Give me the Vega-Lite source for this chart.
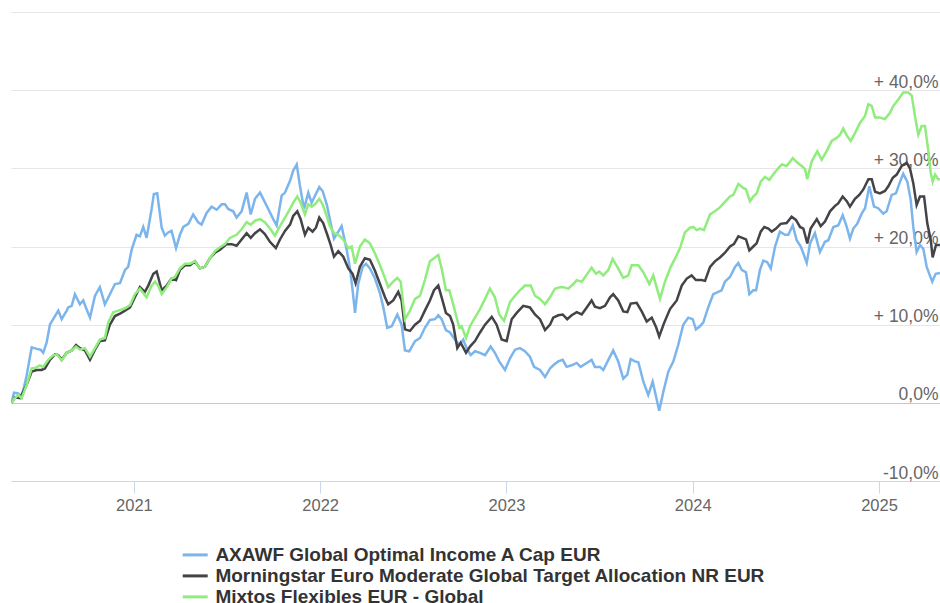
{
  "$schema": "https://vega.github.io/schema/vega-lite/v6.json",
  "width": 929,
  "height": 469,
  "autosize": {"type": "none"},
  "padding": {"left": 11, "top": 12, "right": 0, "bottom": 122},
  "background": "#ffffff",
  "config": {"view": {"stroke": null}, "font": "Liberation Sans"},
  "data": {"values": [
{"s":"a","t":2020.343,"v":0},{"s":"a","t":2020.356,"v":1.3},{"s":"a","t":2020.379,"v":1.2},{"s":"a","t":2020.397,"v":0.7},{"s":"a","t":2020.424,"v":3.5},{"s":"a","t":2020.451,"v":7.1},{"s":"a","t":2020.478,"v":6.9},{"s":"a","t":2020.499,"v":6.8},{"s":"a","t":2020.513,"v":6.4},{"s":"a","t":2020.531,"v":7.7},{"s":"a","t":2020.549,"v":10.0},{"s":"a","t":2020.576,"v":11.1},{"s":"a","t":2020.594,"v":11.8},{"s":"a","t":2020.612,"v":10.7},{"s":"a","t":2020.639,"v":11.8},{"s":"a","t":2020.647,"v":12.2},{"s":"a","t":2020.666,"v":12.4},{"s":"a","t":2020.683,"v":13.9},{"s":"a","t":2020.710,"v":12.6},{"s":"a","t":2020.728,"v":13.1},{"s":"a","t":2020.742,"v":12.2},{"s":"a","t":2020.764,"v":10.9},{"s":"a","t":2020.791,"v":13.7},{"s":"a","t":2020.817,"v":14.8},{"s":"a","t":2020.844,"v":12.6},{"s":"a","t":2020.871,"v":13.9},{"s":"a","t":2020.898,"v":15.2},{"s":"a","t":2020.925,"v":15.3},{"s":"a","t":2020.952,"v":17.0},{"s":"a","t":2020.969,"v":17.4},{"s":"a","t":2020.988,"v":19.6},{"s":"a","t":2021.014,"v":21.5},{"s":"a","t":2021.032,"v":21.3},{"s":"a","t":2021.050,"v":22.5},{"s":"a","t":2021.068,"v":21.1},{"s":"a","t":2021.095,"v":24.8},{"s":"a","t":2021.107,"v":26.7},{"s":"a","t":2021.125,"v":26.8},{"s":"a","t":2021.149,"v":22.4},{"s":"a","t":2021.166,"v":21.4},{"s":"a","t":2021.184,"v":21.8},{"s":"a","t":2021.202,"v":22.0},{"s":"a","t":2021.226,"v":19.8},{"s":"a","t":2021.247,"v":21.5},{"s":"a","t":2021.265,"v":22.5},{"s":"a","t":2021.292,"v":22.9},{"s":"a","t":2021.318,"v":24.1},{"s":"a","t":2021.345,"v":23.1},{"s":"a","t":2021.363,"v":22.8},{"s":"a","t":2021.390,"v":24.3},{"s":"a","t":2021.417,"v":25.1},{"s":"a","t":2021.444,"v":24.7},{"s":"a","t":2021.471,"v":25.4},{"s":"a","t":2021.489,"v":25.4},{"s":"a","t":2021.506,"v":24.8},{"s":"a","t":2021.533,"v":24.5},{"s":"a","t":2021.551,"v":23.7},{"s":"a","t":2021.578,"v":24.5},{"s":"a","t":2021.605,"v":26.9},{"s":"a","t":2021.627,"v":24.1},{"s":"a","t":2021.650,"v":26.1},{"s":"a","t":2021.677,"v":26.9},{"s":"a","t":2021.694,"v":26.1},{"s":"a","t":2021.721,"v":24.8},{"s":"a","t":2021.748,"v":23.5},{"s":"a","t":2021.766,"v":22.7},{"s":"a","t":2021.793,"v":26.5},{"s":"a","t":2021.811,"v":26.9},{"s":"a","t":2021.838,"v":28.4},{"s":"a","t":2021.855,"v":29.7},{"s":"a","t":2021.874,"v":30.5},{"s":"a","t":2021.891,"v":27.8},{"s":"a","t":2021.913,"v":24.8},{"s":"a","t":2021.936,"v":26.9},{"s":"a","t":2021.954,"v":25.6},{"s":"a","t":2021.972,"v":26.5},{"s":"a","t":2021.995,"v":27.6},{"s":"a","t":2022.013,"v":27.1},{"s":"a","t":2022.035,"v":25.4},{"s":"a","t":2022.052,"v":23.5},{"s":"a","t":2022.074,"v":21.0},{"s":"a","t":2022.097,"v":21.9},{"s":"a","t":2022.115,"v":22.6},{"s":"a","t":2022.142,"v":19.6},{"s":"a","t":2022.160,"v":17.2},{"s":"a","t":2022.174,"v":14.4},{"s":"a","t":2022.187,"v":11.5},{"s":"a","t":2022.204,"v":15.2},{"s":"a","t":2022.228,"v":17.4},{"s":"a","t":2022.246,"v":17.8},{"s":"a","t":2022.267,"v":17.2},{"s":"a","t":2022.294,"v":15.9},{"s":"a","t":2022.321,"v":14.0},{"s":"a","t":2022.339,"v":12.2},{"s":"a","t":2022.360,"v":9.6},{"s":"a","t":2022.384,"v":9.8},{"s":"a","t":2022.414,"v":11.3},{"s":"a","t":2022.437,"v":10.0},{"s":"a","t":2022.455,"v":6.7},{"s":"a","t":2022.478,"v":6.6},{"s":"a","t":2022.509,"v":7.9},{"s":"a","t":2022.536,"v":8.3},{"s":"a","t":2022.562,"v":9.6},{"s":"a","t":2022.589,"v":10.6},{"s":"a","t":2022.616,"v":10.7},{"s":"a","t":2022.634,"v":11.2},{"s":"a","t":2022.652,"v":10.7},{"s":"a","t":2022.675,"v":9.3},{"s":"a","t":2022.697,"v":9.0},{"s":"a","t":2022.723,"v":8.1},{"s":"a","t":2022.747,"v":7.4},{"s":"a","t":2022.768,"v":8.1},{"s":"a","t":2022.786,"v":7.0},{"s":"a","t":2022.808,"v":6.1},{"s":"a","t":2022.831,"v":6.6},{"s":"a","t":2022.858,"v":6.4},{"s":"a","t":2022.885,"v":6.1},{"s":"a","t":2022.915,"v":7.2},{"s":"a","t":2022.938,"v":6.4},{"s":"a","t":2022.961,"v":5.3},{"s":"a","t":2022.992,"v":4.2},{"s":"a","t":2023.019,"v":5.7},{"s":"a","t":2023.046,"v":6.8},{"s":"a","t":2023.072,"v":7.0},{"s":"a","t":2023.099,"v":6.6},{"s":"a","t":2023.126,"v":5.9},{"s":"a","t":2023.148,"v":4.6},{"s":"a","t":2023.180,"v":4.2},{"s":"a","t":2023.207,"v":3.3},{"s":"a","t":2023.234,"v":4.4},{"s":"a","t":2023.251,"v":4.8},{"s":"a","t":2023.278,"v":5.3},{"s":"a","t":2023.302,"v":5.5},{"s":"a","t":2023.323,"v":4.6},{"s":"a","t":2023.350,"v":4.8},{"s":"a","t":2023.377,"v":5.1},{"s":"a","t":2023.398,"v":4.6},{"s":"a","t":2023.431,"v":5.1},{"s":"a","t":2023.457,"v":5.5},{"s":"a","t":2023.475,"v":4.6},{"s":"a","t":2023.502,"v":4.6},{"s":"a","t":2023.520,"v":4.2},{"s":"a","t":2023.547,"v":5.5},{"s":"a","t":2023.573,"v":6.7},{"s":"a","t":2023.600,"v":5.3},{"s":"a","t":2023.627,"v":3.1},{"s":"a","t":2023.649,"v":3.6},{"s":"a","t":2023.667,"v":5.6},{"s":"a","t":2023.690,"v":5.3},{"s":"a","t":2023.708,"v":5.2},{"s":"a","t":2023.735,"v":2.7},{"s":"a","t":2023.761,"v":1.0},{"s":"a","t":2023.785,"v":2.7},{"s":"a","t":2023.806,"v":0.5},{"s":"a","t":2023.820,"v":-1.0},{"s":"a","t":2023.842,"v":1.4},{"s":"a","t":2023.869,"v":4.0},{"s":"a","t":2023.896,"v":5.3},{"s":"a","t":2023.922,"v":7.4},{"s":"a","t":2023.949,"v":10.0},{"s":"a","t":2023.976,"v":10.9},{"s":"a","t":2024.000,"v":10.7},{"s":"a","t":2024.017,"v":9.4},{"s":"a","t":2024.039,"v":9.8},{"s":"a","t":2024.057,"v":10.3},{"s":"a","t":2024.083,"v":12.2},{"s":"a","t":2024.110,"v":13.9},{"s":"a","t":2024.137,"v":14.2},{"s":"a","t":2024.155,"v":14.4},{"s":"a","t":2024.173,"v":15.5},{"s":"a","t":2024.200,"v":16.1},{"s":"a","t":2024.227,"v":17.4},{"s":"a","t":2024.245,"v":17.9},{"s":"a","t":2024.263,"v":17.0},{"s":"a","t":2024.286,"v":16.7},{"s":"a","t":2024.304,"v":13.9},{"s":"a","t":2024.325,"v":14.4},{"s":"a","t":2024.340,"v":14.4},{"s":"a","t":2024.361,"v":17.0},{"s":"a","t":2024.379,"v":18.2},{"s":"a","t":2024.400,"v":18.0},{"s":"a","t":2024.419,"v":17.2},{"s":"a","t":2024.442,"v":20.0},{"s":"a","t":2024.468,"v":21.9},{"s":"a","t":2024.495,"v":21.5},{"s":"a","t":2024.513,"v":21.5},{"s":"a","t":2024.537,"v":22.7},{"s":"a","t":2024.558,"v":20.8},{"s":"a","t":2024.580,"v":20.0},{"s":"a","t":2024.594,"v":19.1},{"s":"a","t":2024.612,"v":17.9},{"s":"a","t":2024.630,"v":20.4},{"s":"a","t":2024.656,"v":21.7},{"s":"a","t":2024.683,"v":19.3},{"s":"a","t":2024.710,"v":20.6},{"s":"a","t":2024.728,"v":20.8},{"s":"a","t":2024.755,"v":22.5},{"s":"a","t":2024.781,"v":22.7},{"s":"a","t":2024.805,"v":24.0},{"s":"a","t":2024.827,"v":22.5},{"s":"a","t":2024.844,"v":21.0},{"s":"a","t":2024.862,"v":22.3},{"s":"a","t":2024.883,"v":22.9},{"s":"a","t":2024.907,"v":24.2},{"s":"a","t":2024.925,"v":24.9},{"s":"a","t":2024.948,"v":27.7},{"s":"a","t":2024.973,"v":25.1},{"s":"a","t":2024.996,"v":24.9},{"s":"a","t":2025.023,"v":24.2},{"s":"a","t":2025.041,"v":24.5},{"s":"a","t":2025.068,"v":26.6},{"s":"a","t":2025.091,"v":26.8},{"s":"a","t":2025.113,"v":28.3},{"s":"a","t":2025.130,"v":29.3},{"s":"a","t":2025.152,"v":28.3},{"s":"a","t":2025.170,"v":26.0},{"s":"a","t":2025.184,"v":22.5},{"s":"a","t":2025.202,"v":19.3},{"s":"a","t":2025.220,"v":20.2},{"s":"a","t":2025.238,"v":19.7},{"s":"a","t":2025.256,"v":17.4},{"s":"a","t":2025.270,"v":16.5},{"s":"a","t":2025.286,"v":15.5},{"s":"a","t":2025.304,"v":16.5},{"s":"a","t":2025.327,"v":16.6},
{"s":"b","t":2020.343,"v":0},{"s":"b","t":2020.361,"v":0.7},{"s":"b","t":2020.388,"v":0.6},{"s":"b","t":2020.424,"v":2.3},{"s":"b","t":2020.451,"v":4.0},{"s":"b","t":2020.478,"v":4.2},{"s":"b","t":2020.504,"v":4.2},{"s":"b","t":2020.522,"v":4.4},{"s":"b","t":2020.549,"v":5.5},{"s":"b","t":2020.576,"v":6.2},{"s":"b","t":2020.594,"v":6.1},{"s":"b","t":2020.612,"v":5.5},{"s":"b","t":2020.639,"v":6.4},{"s":"b","t":2020.666,"v":6.7},{"s":"b","t":2020.689,"v":7.4},{"s":"b","t":2020.710,"v":7.0},{"s":"b","t":2020.737,"v":6.7},{"s":"b","t":2020.764,"v":5.5},{"s":"b","t":2020.791,"v":6.8},{"s":"b","t":2020.817,"v":7.9},{"s":"b","t":2020.844,"v":8.0},{"s":"b","t":2020.871,"v":10.0},{"s":"b","t":2020.898,"v":11.1},{"s":"b","t":2020.925,"v":11.4},{"s":"b","t":2020.952,"v":11.8},{"s":"b","t":2020.979,"v":12.2},{"s":"b","t":2021.005,"v":13.5},{"s":"b","t":2021.032,"v":14.8},{"s":"b","t":2021.059,"v":14.2},{"s":"b","t":2021.077,"v":15.0},{"s":"b","t":2021.104,"v":16.5},{"s":"b","t":2021.122,"v":16.8},{"s":"b","t":2021.149,"v":14.4},{"s":"b","t":2021.176,"v":15.0},{"s":"b","t":2021.202,"v":15.9},{"s":"b","t":2021.226,"v":15.7},{"s":"b","t":2021.247,"v":17.0},{"s":"b","t":2021.274,"v":17.6},{"s":"b","t":2021.301,"v":17.6},{"s":"b","t":2021.328,"v":18.1},{"s":"b","t":2021.354,"v":17.2},{"s":"b","t":2021.381,"v":17.4},{"s":"b","t":2021.408,"v":18.5},{"s":"b","t":2021.435,"v":19.2},{"s":"b","t":2021.462,"v":19.6},{"s":"b","t":2021.498,"v":20.3},{"s":"b","t":2021.525,"v":20.3},{"s":"b","t":2021.551,"v":20.1},{"s":"b","t":2021.578,"v":20.9},{"s":"b","t":2021.605,"v":21.7},{"s":"b","t":2021.627,"v":21.1},{"s":"b","t":2021.650,"v":21.7},{"s":"b","t":2021.677,"v":22.2},{"s":"b","t":2021.703,"v":21.6},{"s":"b","t":2021.730,"v":20.6},{"s":"b","t":2021.762,"v":19.8},{"s":"b","t":2021.784,"v":20.9},{"s":"b","t":2021.811,"v":22.0},{"s":"b","t":2021.838,"v":22.8},{"s":"b","t":2021.855,"v":23.9},{"s":"b","t":2021.877,"v":24.5},{"s":"b","t":2021.895,"v":23.5},{"s":"b","t":2021.918,"v":21.5},{"s":"b","t":2021.936,"v":22.4},{"s":"b","t":2021.959,"v":21.9},{"s":"b","t":2021.977,"v":22.4},{"s":"b","t":2021.995,"v":23.7},{"s":"b","t":2022.016,"v":23.0},{"s":"b","t":2022.038,"v":21.5},{"s":"b","t":2022.056,"v":20.2},{"s":"b","t":2022.074,"v":18.7},{"s":"b","t":2022.097,"v":19.4},{"s":"b","t":2022.124,"v":18.7},{"s":"b","t":2022.151,"v":17.2},{"s":"b","t":2022.174,"v":16.5},{"s":"b","t":2022.190,"v":15.3},{"s":"b","t":2022.213,"v":17.4},{"s":"b","t":2022.240,"v":18.5},{"s":"b","t":2022.267,"v":18.3},{"s":"b","t":2022.294,"v":16.9},{"s":"b","t":2022.321,"v":15.2},{"s":"b","t":2022.348,"v":13.5},{"s":"b","t":2022.365,"v":12.6},{"s":"b","t":2022.392,"v":13.1},{"s":"b","t":2022.419,"v":14.2},{"s":"b","t":2022.437,"v":13.1},{"s":"b","t":2022.455,"v":9.4},{"s":"b","t":2022.482,"v":9.2},{"s":"b","t":2022.509,"v":10.0},{"s":"b","t":2022.536,"v":10.5},{"s":"b","t":2022.562,"v":11.8},{"s":"b","t":2022.589,"v":13.1},{"s":"b","t":2022.611,"v":14.4},{"s":"b","t":2022.634,"v":15.0},{"s":"b","t":2022.652,"v":13.5},{"s":"b","t":2022.675,"v":11.5},{"s":"b","t":2022.697,"v":11.1},{"s":"b","t":2022.714,"v":10.0},{"s":"b","t":2022.736,"v":7.0},{"s":"b","t":2022.754,"v":7.7},{"s":"b","t":2022.783,"v":6.4},{"s":"b","t":2022.804,"v":7.2},{"s":"b","t":2022.831,"v":7.9},{"s":"b","t":2022.858,"v":9.0},{"s":"b","t":2022.885,"v":10.0},{"s":"b","t":2022.921,"v":11.0},{"s":"b","t":2022.947,"v":10.0},{"s":"b","t":2022.974,"v":8.1},{"s":"b","t":2023.001,"v":7.9},{"s":"b","t":2023.028,"v":10.7},{"s":"b","t":2023.055,"v":11.5},{"s":"b","t":2023.090,"v":12.4},{"s":"b","t":2023.126,"v":12.2},{"s":"b","t":2023.153,"v":11.3},{"s":"b","t":2023.180,"v":10.7},{"s":"b","t":2023.207,"v":9.3},{"s":"b","t":2023.234,"v":10.0},{"s":"b","t":2023.251,"v":10.9},{"s":"b","t":2023.278,"v":11.2},{"s":"b","t":2023.302,"v":11.3},{"s":"b","t":2023.326,"v":10.7},{"s":"b","t":2023.350,"v":11.2},{"s":"b","t":2023.377,"v":11.6},{"s":"b","t":2023.404,"v":11.3},{"s":"b","t":2023.431,"v":12.2},{"s":"b","t":2023.457,"v":13.1},{"s":"b","t":2023.475,"v":12.3},{"s":"b","t":2023.502,"v":12.1},{"s":"b","t":2023.529,"v":12.4},{"s":"b","t":2023.556,"v":13.5},{"s":"b","t":2023.573,"v":13.9},{"s":"b","t":2023.600,"v":13.1},{"s":"b","t":2023.627,"v":11.7},{"s":"b","t":2023.649,"v":11.6},{"s":"b","t":2023.667,"v":12.7},{"s":"b","t":2023.699,"v":12.8},{"s":"b","t":2023.726,"v":11.7},{"s":"b","t":2023.753,"v":10.4},{"s":"b","t":2023.780,"v":10.9},{"s":"b","t":2023.803,"v":9.7},{"s":"b","t":2023.820,"v":8.5},{"s":"b","t":2023.846,"v":10.2},{"s":"b","t":2023.878,"v":12.0},{"s":"b","t":2023.914,"v":13.1},{"s":"b","t":2023.941,"v":15.0},{"s":"b","t":2023.968,"v":15.9},{"s":"b","t":2023.994,"v":16.3},{"s":"b","t":2024.017,"v":15.7},{"s":"b","t":2024.048,"v":15.7},{"s":"b","t":2024.066,"v":15.6},{"s":"b","t":2024.093,"v":17.4},{"s":"b","t":2024.119,"v":18.1},{"s":"b","t":2024.146,"v":18.6},{"s":"b","t":2024.173,"v":19.2},{"s":"b","t":2024.200,"v":20.0},{"s":"b","t":2024.221,"v":20.3},{"s":"b","t":2024.245,"v":21.3},{"s":"b","t":2024.266,"v":21.1},{"s":"b","t":2024.286,"v":20.9},{"s":"b","t":2024.304,"v":19.5},{"s":"b","t":2024.325,"v":20.0},{"s":"b","t":2024.343,"v":20.4},{"s":"b","t":2024.365,"v":21.9},{"s":"b","t":2024.384,"v":22.5},{"s":"b","t":2024.406,"v":22.3},{"s":"b","t":2024.424,"v":21.9},{"s":"b","t":2024.447,"v":22.3},{"s":"b","t":2024.472,"v":22.9},{"s":"b","t":2024.504,"v":23.0},{"s":"b","t":2024.531,"v":23.8},{"s":"b","t":2024.554,"v":23.4},{"s":"b","t":2024.576,"v":22.5},{"s":"b","t":2024.594,"v":22.3},{"s":"b","t":2024.615,"v":20.4},{"s":"b","t":2024.633,"v":22.3},{"s":"b","t":2024.666,"v":23.5},{"s":"b","t":2024.687,"v":22.6},{"s":"b","t":2024.710,"v":23.2},{"s":"b","t":2024.737,"v":24.5},{"s":"b","t":2024.764,"v":25.2},{"s":"b","t":2024.781,"v":25.5},{"s":"b","t":2024.805,"v":26.4},{"s":"b","t":2024.827,"v":25.8},{"s":"b","t":2024.844,"v":25.1},{"s":"b","t":2024.871,"v":26.1},{"s":"b","t":2024.894,"v":26.6},{"s":"b","t":2024.916,"v":27.3},{"s":"b","t":2024.943,"v":28.6},{"s":"b","t":2024.961,"v":28.6},{"s":"b","t":2024.979,"v":27.0},{"s":"b","t":2025.005,"v":26.8},{"s":"b","t":2025.032,"v":27.1},{"s":"b","t":2025.050,"v":27.7},{"s":"b","t":2025.074,"v":28.8},{"s":"b","t":2025.095,"v":29.2},{"s":"b","t":2025.122,"v":30.3},{"s":"b","t":2025.149,"v":30.7},{"s":"b","t":2025.166,"v":30.0},{"s":"b","t":2025.184,"v":28.1},{"s":"b","t":2025.202,"v":25.3},{"s":"b","t":2025.220,"v":26.4},{"s":"b","t":2025.242,"v":26.4},{"s":"b","t":2025.259,"v":23.0},{"s":"b","t":2025.278,"v":20.8},{"s":"b","t":2025.288,"v":18.6},{"s":"b","t":2025.306,"v":20.2},{"s":"b","t":2025.327,"v":20.2},
{"s":"c","t":2020.343,"v":0},{"s":"c","t":2020.356,"v":0.5},{"s":"c","t":2020.379,"v":1.0},{"s":"c","t":2020.397,"v":0.6},{"s":"c","t":2020.424,"v":2.3},{"s":"c","t":2020.451,"v":4.4},{"s":"c","t":2020.474,"v":4.5},{"s":"c","t":2020.495,"v":4.8},{"s":"c","t":2020.513,"v":4.6},{"s":"c","t":2020.540,"v":5.5},{"s":"c","t":2020.567,"v":6.1},{"s":"c","t":2020.588,"v":6.2},{"s":"c","t":2020.612,"v":5.4},{"s":"c","t":2020.639,"v":6.4},{"s":"c","t":2020.666,"v":6.7},{"s":"c","t":2020.689,"v":7.2},{"s":"c","t":2020.710,"v":6.8},{"s":"c","t":2020.737,"v":7.0},{"s":"c","t":2020.764,"v":5.9},{"s":"c","t":2020.791,"v":7.0},{"s":"c","t":2020.817,"v":8.1},{"s":"c","t":2020.844,"v":8.3},{"s":"c","t":2020.862,"v":10.3},{"s":"c","t":2020.889,"v":11.6},{"s":"c","t":2020.916,"v":11.8},{"s":"c","t":2020.952,"v":12.1},{"s":"c","t":2020.979,"v":12.5},{"s":"c","t":2021.005,"v":13.9},{"s":"c","t":2021.032,"v":14.6},{"s":"c","t":2021.068,"v":13.5},{"s":"c","t":2021.095,"v":15.0},{"s":"c","t":2021.113,"v":15.5},{"s":"c","t":2021.130,"v":15.0},{"s":"c","t":2021.149,"v":13.9},{"s":"c","t":2021.176,"v":14.8},{"s":"c","t":2021.202,"v":15.9},{"s":"c","t":2021.220,"v":16.1},{"s":"c","t":2021.247,"v":17.2},{"s":"c","t":2021.274,"v":17.8},{"s":"c","t":2021.301,"v":17.8},{"s":"c","t":2021.328,"v":18.1},{"s":"c","t":2021.354,"v":17.2},{"s":"c","t":2021.381,"v":17.4},{"s":"c","t":2021.408,"v":18.5},{"s":"c","t":2021.435,"v":19.4},{"s":"c","t":2021.462,"v":19.9},{"s":"c","t":2021.489,"v":20.3},{"s":"c","t":2021.515,"v":21.1},{"s":"c","t":2021.551,"v":21.5},{"s":"c","t":2021.578,"v":22.2},{"s":"c","t":2021.605,"v":23.1},{"s":"c","t":2021.627,"v":22.8},{"s":"c","t":2021.650,"v":23.3},{"s":"c","t":2021.677,"v":23.5},{"s":"c","t":2021.703,"v":23.1},{"s":"c","t":2021.730,"v":22.3},{"s":"c","t":2021.757,"v":21.4},{"s":"c","t":2021.784,"v":22.6},{"s":"c","t":2021.811,"v":23.7},{"s":"c","t":2021.838,"v":24.8},{"s":"c","t":2021.855,"v":25.6},{"s":"c","t":2021.877,"v":26.4},{"s":"c","t":2021.895,"v":25.6},{"s":"c","t":2021.918,"v":24.1},{"s":"c","t":2021.936,"v":25.4},{"s":"c","t":2021.954,"v":25.1},{"s":"c","t":2021.972,"v":25.4},{"s":"c","t":2021.995,"v":26.1},{"s":"c","t":2022.013,"v":25.4},{"s":"c","t":2022.035,"v":23.9},{"s":"c","t":2022.052,"v":22.6},{"s":"c","t":2022.074,"v":21.7},{"s":"c","t":2022.097,"v":21.5},{"s":"c","t":2022.124,"v":20.9},{"s":"c","t":2022.151,"v":19.8},{"s":"c","t":2022.169,"v":20.0},{"s":"c","t":2022.187,"v":17.8},{"s":"c","t":2022.213,"v":20.0},{"s":"c","t":2022.240,"v":20.9},{"s":"c","t":2022.267,"v":20.4},{"s":"c","t":2022.294,"v":19.1},{"s":"c","t":2022.321,"v":17.6},{"s":"c","t":2022.342,"v":16.3},{"s":"c","t":2022.365,"v":14.8},{"s":"c","t":2022.392,"v":15.5},{"s":"c","t":2022.414,"v":16.0},{"s":"c","t":2022.432,"v":15.5},{"s":"c","t":2022.455,"v":10.7},{"s":"c","t":2022.482,"v":11.8},{"s":"c","t":2022.509,"v":13.3},{"s":"c","t":2022.536,"v":13.7},{"s":"c","t":2022.562,"v":15.7},{"s":"c","t":2022.589,"v":18.1},{"s":"c","t":2022.611,"v":18.5},{"s":"c","t":2022.634,"v":18.9},{"s":"c","t":2022.652,"v":17.2},{"s":"c","t":2022.675,"v":14.4},{"s":"c","t":2022.693,"v":14.4},{"s":"c","t":2022.714,"v":12.6},{"s":"c","t":2022.747,"v":9.6},{"s":"c","t":2022.759,"v":9.8},{"s":"c","t":2022.783,"v":8.3},{"s":"c","t":2022.804,"v":9.8},{"s":"c","t":2022.831,"v":10.9},{"s":"c","t":2022.858,"v":12.0},{"s":"c","t":2022.885,"v":13.3},{"s":"c","t":2022.911,"v":14.6},{"s":"c","t":2022.938,"v":13.5},{"s":"c","t":2022.961,"v":11.3},{"s":"c","t":2022.987,"v":10.5},{"s":"c","t":2023.019,"v":12.9},{"s":"c","t":2023.046,"v":13.7},{"s":"c","t":2023.072,"v":14.4},{"s":"c","t":2023.099,"v":15.0},{"s":"c","t":2023.130,"v":15.0},{"s":"c","t":2023.153,"v":13.7},{"s":"c","t":2023.180,"v":13.3},{"s":"c","t":2023.207,"v":12.6},{"s":"c","t":2023.234,"v":13.5},{"s":"c","t":2023.260,"v":14.6},{"s":"c","t":2023.287,"v":14.8},{"s":"c","t":2023.305,"v":14.8},{"s":"c","t":2023.332,"v":14.6},{"s":"c","t":2023.359,"v":15.2},{"s":"c","t":2023.377,"v":15.7},{"s":"c","t":2023.404,"v":15.5},{"s":"c","t":2023.431,"v":16.4},{"s":"c","t":2023.457,"v":17.3},{"s":"c","t":2023.481,"v":16.5},{"s":"c","t":2023.498,"v":16.8},{"s":"c","t":2023.520,"v":16.3},{"s":"c","t":2023.547,"v":17.0},{"s":"c","t":2023.570,"v":18.4},{"s":"c","t":2023.595,"v":17.4},{"s":"c","t":2023.627,"v":16.0},{"s":"c","t":2023.654,"v":16.3},{"s":"c","t":2023.672,"v":17.6},{"s":"c","t":2023.708,"v":17.6},{"s":"c","t":2023.735,"v":16.7},{"s":"c","t":2023.767,"v":15.2},{"s":"c","t":2023.788,"v":16.3},{"s":"c","t":2023.806,"v":14.8},{"s":"c","t":2023.824,"v":13.3},{"s":"c","t":2023.851,"v":15.5},{"s":"c","t":2023.882,"v":17.4},{"s":"c","t":2023.910,"v":18.7},{"s":"c","t":2023.932,"v":19.8},{"s":"c","t":2023.958,"v":21.8},{"s":"c","t":2023.985,"v":22.4},{"s":"c","t":2024.003,"v":22.5},{"s":"c","t":2024.021,"v":22.1},{"s":"c","t":2024.039,"v":22.3},{"s":"c","t":2024.060,"v":22.1},{"s":"c","t":2024.093,"v":24.1},{"s":"c","t":2024.119,"v":24.5},{"s":"c","t":2024.146,"v":25.0},{"s":"c","t":2024.173,"v":25.7},{"s":"c","t":2024.200,"v":26.4},{"s":"c","t":2024.218,"v":26.6},{"s":"c","t":2024.245,"v":28.0},{"s":"c","t":2024.271,"v":27.5},{"s":"c","t":2024.286,"v":27.3},{"s":"c","t":2024.307,"v":25.8},{"s":"c","t":2024.325,"v":26.4},{"s":"c","t":2024.343,"v":26.8},{"s":"c","t":2024.365,"v":28.3},{"s":"c","t":2024.388,"v":28.9},{"s":"c","t":2024.411,"v":28.5},{"s":"c","t":2024.432,"v":29.2},{"s":"c","t":2024.459,"v":30.0},{"s":"c","t":2024.478,"v":30.5},{"s":"c","t":2024.504,"v":30.3},{"s":"c","t":2024.537,"v":31.3},{"s":"c","t":2024.558,"v":30.8},{"s":"c","t":2024.585,"v":30.3},{"s":"c","t":2024.603,"v":29.9},{"s":"c","t":2024.615,"v":28.6},{"s":"c","t":2024.639,"v":30.9},{"s":"c","t":2024.669,"v":32.2},{"s":"c","t":2024.692,"v":31.1},{"s":"c","t":2024.719,"v":32.2},{"s":"c","t":2024.746,"v":33.5},{"s":"c","t":2024.773,"v":33.9},{"s":"c","t":2024.791,"v":34.3},{"s":"c","t":2024.808,"v":35.1},{"s":"c","t":2024.827,"v":34.2},{"s":"c","t":2024.848,"v":33.5},{"s":"c","t":2024.871,"v":34.5},{"s":"c","t":2024.898,"v":35.8},{"s":"c","t":2024.925,"v":36.7},{"s":"c","t":2024.943,"v":38.2},{"s":"c","t":2024.961,"v":38.0},{"s":"c","t":2024.979,"v":36.5},{"s":"c","t":2025.005,"v":36.5},{"s":"c","t":2025.032,"v":36.3},{"s":"c","t":2025.059,"v":37.1},{"s":"c","t":2025.077,"v":38.0},{"s":"c","t":2025.104,"v":38.8},{"s":"c","t":2025.130,"v":39.7},{"s":"c","t":2025.157,"v":39.7},{"s":"c","t":2025.176,"v":39.3},{"s":"c","t":2025.193,"v":36.7},{"s":"c","t":2025.211,"v":34.3},{"s":"c","t":2025.229,"v":35.4},{"s":"c","t":2025.247,"v":35.4},{"s":"c","t":2025.265,"v":32.2},{"s":"c","t":2025.278,"v":29.4},{"s":"c","t":2025.288,"v":28.3},{"s":"c","t":2025.301,"v":29.2},{"s":"c","t":2025.318,"v":28.6},{"s":"c","t":2025.327,"v":28.6}
  ]},
  "mark": {"type": "line", "strokeWidth": 2.5, "clip": true},
  "encoding": {
    "x": {
      "field": "t", "type": "quantitative",
      "scale": {"domain": [2020.34, 2025.3275], "nice": false, "zero": false},
      "axis": {
        "title": null, "values": [2021, 2022, 2023, 2024, 2025], "format": "d",
        "grid": false, "domainColor": "#ccd6eb", "tickColor": "#ccd6eb", "tickSize": 12,
        "labelFontSize": 16.5, "labelColor": "#666666", "labelPadding": 4, "labelFlush": false,
        "labelFont": "Liberation Sans"
      }
    },
    "y": {
      "field": "v", "type": "quantitative",
      "scale": {"domain": [-10, 50], "nice": false, "zero": false},
      "axis": {
        "title": null, "orient": "right", "values": [-10, 0, 10, 20, 30, 40, 50],
        "domain": false, "ticks": false, "tickSize": 0,
        "grid": true, "gridColor": {"condition": {"test": "datum.value === 0", "value": "#c8c8c8"}, "value": "#e6e6e6"},
        "labelAlign": "right", "labelPadding": -2, "labelBaseline": "alphabetic", "labelOffset": -3,
        "labelFontSize": 17.5, "labelColor": "#666666", "labelFont": "Liberation Sans",
        "labelBound": false, "labelOverlap": false, "labelFlush": false,
        "labelExpr": "datum.value >= 50 ? '' : (datum.value > 0 ? '+ ' : (datum.value < 0 ? '-' : '')) + replace(format(abs(datum.value), '.1f'), '.', ',') + '%'"
      }
    },
    "color": {
      "field": "s", "type": "nominal",
      "scale": {"domain": ["a", "b", "c"], "range": ["#7cb5ec", "#434348", "#90ed7d"]},
      "legend": {
        "title": null, "orient": "none", "legendX": 173.7, "legendY": 532.4, "direction": "vertical",
        "symbolType": "M-1.42,0L1.42,0", "symbolSize": 310, "symbolStrokeWidth": 3, "symbolFillColor": "transparent", "padding": 0,
        "labelFontSize": 19, "labelFontWeight": "bold", "labelColor": "#333333", "labelFont": "Liberation Sans",
        "labelLimit": 900, "labelOffset": 9.7, "rowPadding": 0,
        "labelExpr": "datum.value == 'a' ? 'AXAWF Global Optimal Income A Cap EUR' : datum.value == 'b' ? 'Morningstar Euro Moderate Global Target Allocation NR EUR' : 'Mixtos Flexibles EUR - Global'"
      }
    }
  }
}
